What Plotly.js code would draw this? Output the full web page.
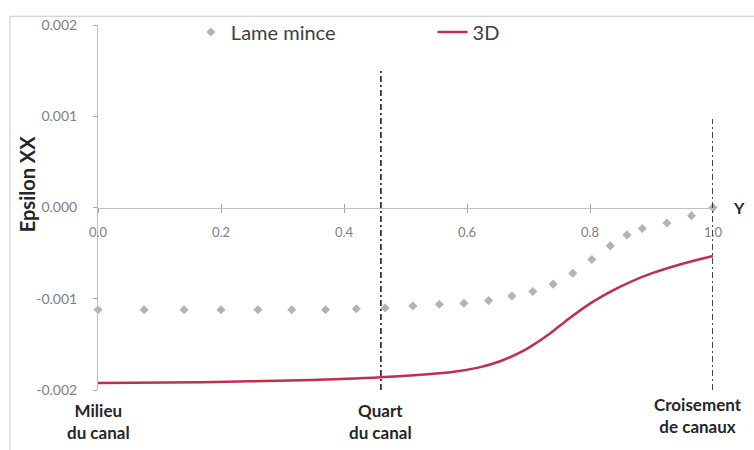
<!DOCTYPE html>
<html>
<head>
<meta charset="utf-8">
<script src="https://cdn.plot.ly/plotly-3.0.1.min.js"></script>
<style>html,body{margin:0;padding:0;background:#fff;}#chart{width:754px;height:450px;}</style>
</head>
<body>
<div id="chart"></div>
<script>
// Series "Lame mince" (gray markers)
const xLame = [0, 0.075, 0.14, 0.2, 0.26, 0.315, 0.37, 0.42, 0.467, 0.512, 0.555, 0.595, 0.635, 0.673, 0.707, 0.74, 0.772, 0.803, 0.833, 0.86, 0.885, 0.925, 0.965, 1.0];
const yLame = [-0.00112, -0.00112, -0.00112, -0.00112, -0.00112, -0.00112, -0.00112, -0.00111, -0.00110, -0.00108, -0.00106, -0.00105, -0.00102, -0.00097, -0.00092, -0.00084, -0.00072, -0.00057, -0.00042, -0.00030, -0.00023, -0.00017, -0.00009, 0.0];

// Series "3D" (red line)
const x3D = [0, 0.17, 0.33, 0.46, 0.555, 0.59, 0.62, 0.655, 0.685, 0.7, 0.735, 0.765, 0.8, 0.835, 0.865, 0.9, 0.945, 0.98, 1.0];
const y3D = [-0.001924, -0.001914, -0.001892, -0.001859, -0.001816, -0.001788, -0.001752, -0.001682, -0.001592, -0.001538, -0.00138, -0.001221, -0.001053, -0.000916, -0.000817, -0.000722, -0.000627, -0.000564, -0.00053];

// Axis ticks
const yTickVals = [-0.002, -0.001, 0, 0.001, 0.002];
const yTickText = ["-0.002", "-0.001", "0.000", "0.001", "0.002"];
const xTickVals = [0, 0.2, 0.4, 0.6, 0.8, 1.0];
const xTickText = ["0.0", "0.2", "0.4", "0.6", "0.8", "1.0"];

// Reference positions (vertical dash-dot lines) and their labels
const refX = [0.46, 1.0];
const refTop = [0.00152, 0.00097];
const refBottom = -0.002;
const posLabels = ["<b>Milieu</b><br><b>du canal</b>", "<b>Quart</b><br><b>du canal</b>", "<b>Croisement</b><br><b>de canaux</b>"];
const posLabelX = [0, 0.46, 0.975];

const FONT = "Lato, 'Open Sans', 'Liberation Sans', sans-serif";

const traces = [
  {
    x: xLame, y: yLame, name: "Lame mince", type: "scatter", mode: "markers",
    marker: {symbol: "diamond", size: 7, color: "#b3b3b3"},
    cliponaxis: false, legend: "legend"
  },
  {
    x: x3D, y: y3D, name: "3D", type: "scatter", mode: "lines",
    line: {color: "#c0304a", width: 2.5, shape: "spline", smoothing: 0.8},
    cliponaxis: false, legend: "legend2"
  },
  {
    // secondary axis to draw the upward half of the crossing x ticks
    x: [0], y: [0], xaxis: "x2", yaxis: "y", mode: "markers",
    marker: {opacity: 0}, showlegend: false, hoverinfo: "skip"
  }
];

const shapes = [];
refX.forEach((xv, i) => {
  shapes.push({type: "line", xref: "x", yref: "y", x0: xv, x1: xv, y0: refBottom, y1: refTop[i],
    line: {color: "#1a1a1a", width: 1.6, dash: "6px,3px,2px,3px"}});
});
// chart area border (top and left)
shapes.push({type: "line", xref: "paper", yref: "paper", x0: -0.143, x1: 1.1, y0: 1.024, y1: 1.024, line: {color: "#c8c8c8", width: 1}});
shapes.push({type: "line", xref: "paper", yref: "paper", x0: -0.143, x1: -0.143, y0: 1.024, y1: -0.2, line: {color: "#c8c8c8", width: 1}});

const annotations = posLabels.map((t, i) => ({
  text: t, x: posLabelX[i], xref: "x", y: i === 2 ? -0.07 : -0.085, yref: "paper",
  yanchor: "middle", xanchor: "center", showarrow: false,
  font: {family: FONT, size: 17, color: "#262626"}, align: "center"
}));
annotations.push({
  text: "<b>Y</b>", xref: "paper", yref: "y", x: 1.042, y: 0, xanchor: "center", yanchor: "middle",
  showarrow: false, font: {family: FONT, size: 16, color: "#262626"}
});
// y axis title
annotations.push({
  text: "<b>Epsilon XX</b>", xref: "paper", yref: "paper", x: -0.114, y: 0.566,
  xanchor: "center", yanchor: "middle", textangle: -90, showarrow: false,
  font: {family: FONT, size: 20, color: "#262626"}
});

const layout = {
  width: 754, height: 450,
  margin: {l: 98, r: 41, t: 20, b: 60},
  paper_bgcolor: "#ffffff", plot_bgcolor: "#ffffff",
  font: {family: FONT, color: "#404040"},
  showlegend: true,
  legend: {
    orientation: "h", x: 0.151, xanchor: "left", y: 0.981, yanchor: "middle",
    font: {family: FONT, size: 20, color: "#404040"}, bgcolor: "rgba(0,0,0,0)"
  },
  legend2: {
    orientation: "h", x: 0.544, xanchor: "left", y: 0.981, yanchor: "middle",
    font: {family: FONT, size: 20, color: "#404040"}, bgcolor: "rgba(0,0,0,0)"
  },
  xaxis: {
    range: [0, 1.0], anchor: "free", position: 0.5,
    tickvals: xTickVals, ticktext: xTickText,
    ticks: "outside", ticklen: 4, tickcolor: "#a6a6a6", tickwidth: 1,
    ticklabelstandoff: 9,
    tickfont: {family: FONT, size: 13, color: "#808080"},
    showline: true, linecolor: "#bfbfbf", linewidth: 1,
    showgrid: false, zeroline: false, fixedrange: true
  },
  xaxis2: {
    range: [0, 1.0], overlaying: "x", anchor: "free", position: 0.5,
    tickvals: xTickVals, ticks: "inside", ticklen: 4, tickcolor: "#a6a6a6",
    showticklabels: false, showline: false, showgrid: false, zeroline: false
  },
  yaxis: {
    range: [-0.002, 0.002], anchor: "x",
    tickvals: yTickVals, ticktext: yTickText,
    ticks: "outside", ticklen: 4, tickcolor: "#a6a6a6",
    ticklabelstandoff: 13,
    tickfont: {family: FONT, size: 14, color: "#808080"},
    showline: true, linecolor: "#bfbfbf", linewidth: 1,
    showgrid: false, zeroline: false
  },
  shapes: shapes,
  annotations: annotations
};

Plotly.newPlot("chart", traces, layout, {displayModeBar: false, staticPlot: true});
</script>
</body>
</html>
